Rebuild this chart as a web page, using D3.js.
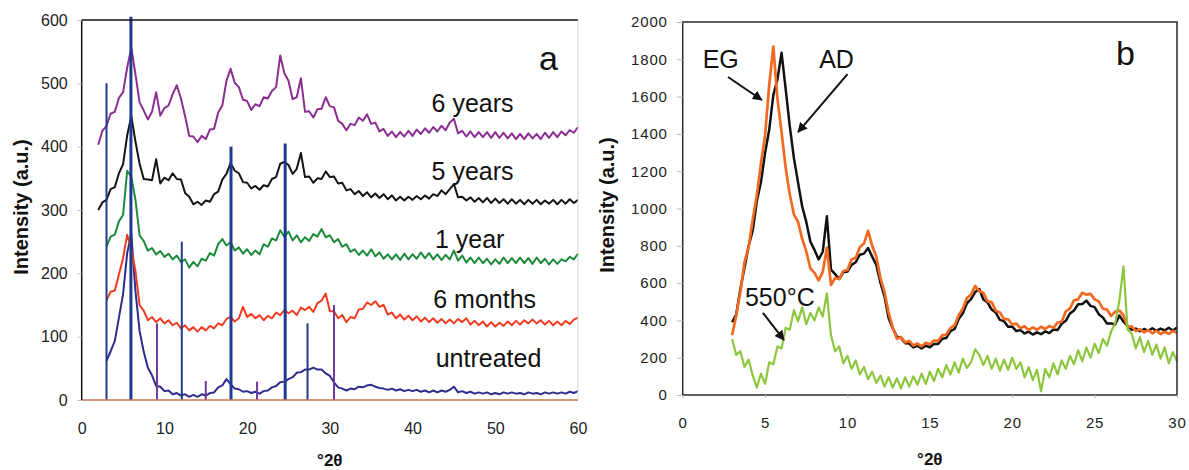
<!DOCTYPE html>
<html><head><meta charset="utf-8">
<script src="https://cdn.jsdelivr.net/npm/d3@7"></script>
<style>body{margin:0;background:#fff}svg{display:block;font-family:Arial,"Liberation Sans",sans-serif}</style>
</head><body><svg id="c" width="1189" height="470"></svg>
<script>
// ---------------- Panel a data (°2θ grid: start + i*0.5) ----------------
const aStep = 0.5;
const sixYearsStart = 2;
const sixYears = [
403,425,433,452,455,477,486,525,556,514,
470,457,443,455,486,449,461,465,483,497,
476,448,417,416,407,417,412,427,428,454,
465,504,523,501,494,474,472,458,467,464,
478,476,488,494,544,516,504,475,478,508,
455,456,446,459,460,478,464,462,441,436,
426,436,434,446,441,451,436,438,424,428,
417,424,415,423,416,425,417,427,420,429,
422,431,424,433,426,438,444,421,425,416,
424,415,423,415,423,414,423,414,422,413,
421,412,420,412,421,413,420,412,422,414,
423,415,424,418,426,422,431];
const fiveYearsStart = 2;
const fiveYears = [
300,312,316,333,336,358,372,418,448,408,
373,349,348,347,380,342,351,347,358,349,
348,327,321,309,313,308,315,313,325,329,
348,357,374,362,358,344,343,334,338,332,
339,337,349,352,373,376,371,357,365,390,
352,353,343,350,349,361,352,353,342,343,
331,333,325,330,322,328,320,326,319,325,
317,323,315,321,315,321,316,322,317,323,
318,325,322,331,325,333,341,320,321,315,
320,313,319,312,319,311,318,311,317,310,
317,310,316,309,316,310,316,309,315,310,
316,309,316,310,317,311,316];
const oneYearStart = 3;
const oneYear = [
242,258,261,282,292,362,352,316,260,251,
236,240,230,235,226,231,222,228,218,222,
209,218,211,223,220,232,228,246,254,244,
249,236,241,231,238,229,236,230,246,242,
255,252,268,258,266,252,260,249,257,251,
262,258,270,257,260,249,254,242,246,234,
238,229,236,228,238,227,233,223,230,222,
230,221,231,222,230,223,233,224,232,222,
230,221,229,222,236,220,228,217,225,216,
225,216,223,214,222,215,225,216,224,216,
225,216,224,215,225,216,223,214,222,215,
222,219,226,222,231];
const sixMonthsStart = 3;
const sixMonths = [
158,171,173,198,224,261,238,204,150,141,
126,131,123,129,121,126,118,122,113,118,
110,115,108,115,110,117,113,121,118,128,
131,124,129,147,131,136,129,134,126,133,
129,138,134,142,137,141,134,146,142,147,
139,153,157,168,140,140,129,134,123,131,
129,143,144,154,150,156,147,150,135,138,
129,135,127,133,126,132,124,130,123,129,
122,128,121,127,121,128,123,129,119,125,
118,124,116,123,116,122,117,124,118,125,
119,126,121,127,121,126,119,125,118,124,
118,125,120,127,130];
const untreatedStart = 3;
const untreated = [
62,77,93,130,167,232,262,172,109,76,
51,39,22,21,14,15,9,11,7,9,
5,8,5,9,7,11,12,20,23,33,
25,18,17,13,14,11,13,10,14,15,
20,22,28,29,33,36,43,44,48,48,
51,48,48,42,38,28,20,18,15,18,
17,21,20,23,24,21,19,18,16,18,
15,17,14,16,14,16,13,15,12,15,
12,15,13,16,21,12,14,11,13,10,
12,10,12,9,11,9,12,10,12,10,
11,9,12,10,11,9,12,10,12,10,
12,10,13,11,14];
// reference (stick) pattern
const stickPos     = [3.0, 5.95, 9.1, 12.1, 15.0, 18.05, 21.2, 24.6, 27.3, 30.5];
const stickHeights = [500, 605,  121, 250,  30,   400,   29,   405,  121,  150];
const stickKind    = ['n','N','p','n','p','N','p','N','n','p'];
const aXTicks = [0,10,20,30,40,50,60];
const aYTicks = [0,100,200,300,400,500,600];
const aLabels = ['6 years','5 years','1 year','6 months','untreated'];

// ---------------- Panel b data (°2θ grid: 3 + i*0.25) ----------------
const bStart = 3, bStep = 0.25;
const EG = [
320,428,552,712,792,941,1072,1243,1392,1662,1868,1590,
1410,1218,1075,968,928,838,770,678,655,615,660,790,
590,628,622,665,670,728,735,792,812,880,800,742,
628,552,440,362,302,310,282,290,265,276,261,280,
272,292,290,320,324,360,373,428,462,520,538,585,
556,548,502,498,452,443,408,406,378,383,359,368,
349,363,350,366,354,370,360,388,393,448,463,508,
513,548,538,542,513,502,463,458,424,447,453,428,
364,368,343,352,336,348,331,344,327,339,328,343,
334];
const AD = [
390,432,568,682,798,882,1040,1142,1298,1422,1608,1692,
1835,1640,1440,1270,1140,1012,928,822,778,727,768,958,
672,648,622,658,662,698,712,752,758,788,742,698,
602,528,412,358,312,306,278,276,255,264,250,264,
256,274,274,302,306,342,354,408,438,492,514,552,
568,512,496,458,442,403,396,366,367,343,348,330,
339,324,336,326,341,332,351,348,382,398,437,453,
487,488,506,478,471,433,416,383,384,378,426,394,
371,349,356,342,354,344,358,344,356,346,361,346,
362];
const C550 = [
300,215,235,150,190,105,40,115,60,175,165,260,
250,360,350,455,395,470,380,440,400,470,420,545,
320,235,260,170,210,140,185,110,150,85,125,65,
105,45,95,40,90,35,95,45,100,55,115,60,
125,75,140,95,160,110,175,120,195,145,175,245,
215,160,210,140,195,130,190,135,200,140,175,95,
150,80,135,20,140,95,170,110,185,140,210,165,
240,180,255,200,275,225,300,265,340,385,505,690,
350,330,250,310,230,290,215,270,195,255,170,230,
180];
const bXTicks = [0,5,10,15,20,25,30];
const bYTicks = [0,200,400,600,800,1000,1200,1400,1600,1800,2000];

// ---------------- drawing ----------------
const svg = d3.select('#c');
svg.append('rect').attr('width',1189).attr('height',470).attr('fill','#fff');
const defs = svg.append('defs');
defs.append('marker').attr('id','ah').attr('viewBox','0 0 10 10').attr('refX',9).attr('refY',5)
  .attr('markerWidth',5).attr('markerHeight',5).attr('orient','auto')
  .append('path').attr('d','M0,0L10,5L0,10z').attr('fill','#111');

// Panel a
const xa = d3.scaleLinear().domain([0,60]).range([81.7,578]);
const ya = d3.scaleLinear().domain([0,600]).range([400,20]);
const ga = svg.append('g');

const seriesA = [
  {vals: untreated, start: untreatedStart, color:'#2e2c8c'},
  {vals: sixMonths, start: sixMonthsStart, color:'#f03c22'},
  {vals: oneYear,   start: oneYearStart,   color:'#1c8a3a'},
  {vals: fiveYears, start: fiveYearsStart, color:'#141414'},
  {vals: sixYears,  start: sixYearsStart,  color:'#8c2d92'}
];
seriesA.forEach(s=>{
  const line = d3.line().x((d,i)=>xa(s.start + i*aStep)).y(d=>ya(d));
  ga.append('path').attr('d', line(s.vals)).attr('fill','none')
    .attr('stroke', s.color).attr('stroke-width',2).attr('stroke-linejoin','round');
});
// sticks
ga.selectAll('line.stick').data(stickPos).enter().append('line')
  .attr('x1',d=>xa(d)).attr('x2',d=>xa(d))
  .attr('y1',ya(0)).attr('y2',(d,i)=>ya(stickHeights[i]))
  .attr('stroke',(d,i)=>stickKind[i]==='p' ? '#6a3a9c' : '#1f3a8f')
  .attr('stroke-width',(d,i)=>stickKind[i]==='N' ? 3 : 2);

// frame a
ga.append('line').attr('x1',xa(0)).attr('x2',xa(60)).attr('y1',ya(0)).attr('y2',ya(0)).attr('stroke','#c8744f').attr('stroke-width',1.5);
ga.append('line').attr('x1',xa(0)).attr('x2',xa(60)).attr('y1',ya(600)).attr('y2',ya(600)).attr('stroke','#111').attr('stroke-width',1.5);
ga.append('line').attr('x1',xa(0)).attr('x2',xa(0)).attr('y1',ya(0)).attr('y2',ya(600)).attr('stroke','#111').attr('stroke-width',1.5);
ga.append('line').attr('x1',xa(60)).attr('x2',xa(60)).attr('y1',ya(0)).attr('y2',ya(600)).attr('stroke','#d4d4d4').attr('stroke-width',1);

// axes a
const axYa = ga.append('g').attr('transform',`translate(${xa(0)},0)`)
  .call(d3.axisLeft(ya).tickValues(aYTicks).tickFormat(d3.format('d')).tickSize(4).tickPadding(10));
const axXa = ga.append('g').attr('transform',`translate(0,${ya(0)})`)
  .call(d3.axisBottom(xa).tickValues(aXTicks).tickFormat(d3.format('d')).tickSize(0).tickPadding(23));
[axYa,axXa].forEach(a=>{
  a.select('.domain').remove();
  a.selectAll('line').attr('stroke','#a9bfd6');
  a.selectAll('text').attr('font-size',16).attr('fill','#222').attr('font-family','Arial, "Liberation Sans", sans-serif');
});

// labels a
const aLabelPos = [[42.3,455],[42.3,347],[42.7,240],[42.5,145],[42.8,52]];
ga.selectAll('text.sl').data(aLabels).enter().append('text')
  .attr('x',(d,i)=>xa(aLabelPos[i][0])).attr('y',(d,i)=>ya(aLabelPos[i][1]))
  .attr('font-size',25).attr('fill','#111').text(d=>d);
ga.append('text').attr('x',xa(55.3)).attr('y',ya(521)).attr('font-size',34).attr('fill','#111').text('a');
ga.append('text').attr('x',(xa(0)+xa(60))/2).attr('y',466).attr('text-anchor','middle')
  .attr('font-size',17).attr('font-weight','bold').attr('fill','#111').text('°2θ');
ga.append('text').attr('transform','translate(28,207) rotate(-90)').attr('text-anchor','middle')
  .attr('font-size',20).attr('font-weight','bold').attr('fill','#111').text('Intensity (a.u.)');

// Panel b
const xb = d3.scaleLinear().domain([0,30]).range([682.7,1177]);
const yb = d3.scaleLinear().domain([0,2000]).range([395,22]);
const gb = svg.append('g');
const seriesB = [
  {vals: AD,   color:'#111111', w:2.5},
  {vals: EG,   color:'#f26a21', w:2.7},
  {vals: C550, color:'#8cc63e', w:2.2}
];
seriesB.forEach(s=>{
  const line = d3.line().x((d,i)=>xb(bStart + i*bStep)).y(d=>yb(d));
  gb.append('path').attr('d', line(s.vals)).attr('fill','none')
    .attr('stroke', s.color).attr('stroke-width', s.w).attr('stroke-linejoin','round');
});
gb.append('rect').attr('x',xb(0)).attr('y',yb(2000)).attr('width',xb(30)-xb(0)).attr('height',yb(0)-yb(2000))
  .attr('fill','none').attr('stroke','#2a2a2a').attr('stroke-width',1.5);

const axYb = gb.append('g').attr('transform',`translate(${xb(0)},0)`)
  .call(d3.axisLeft(yb).tickValues(bYTicks).tickFormat(d3.format('d')).tickSize(6).tickPadding(9));
const axXb = gb.append('g').attr('transform',`translate(0,${yb(0)})`)
  .call(d3.axisBottom(xb).tickValues(bXTicks).tickFormat(d3.format('d')).tickSize(3).tickPadding(19));
[axYb,axXb].forEach(a=>{
  a.select('.domain').remove();
  a.selectAll('line').attr('stroke','#a9bfd6');
  a.selectAll('text').attr('font-size',15).attr('fill','#222').attr('letter-spacing','0.8px')
    .attr('font-family','Arial, "Liberation Sans", sans-serif');
});

// annotations b
const bNotes = [
  {t:'EG',    x:1.21, y:1753, from:[2.75,1705], to:[4.8,1582]},
  {t:'AD',    x:8.28, y:1753, from:[10.0,1721], to:[7.0,1410]},
  {t:'550°C', x:3.78, y:477,  from:[4.87,440],  to:[6.14,295]}
];
bNotes.forEach(n=>{
  gb.append('text').attr('x',xb(n.x)).attr('y',yb(n.y)).attr('font-size',25).attr('fill','#111').text(n.t);
  gb.append('line').attr('x1',xb(n.from[0])).attr('y1',yb(n.from[1]))
    .attr('x2',xb(n.to[0])).attr('y2',yb(n.to[1]))
    .attr('stroke','#111').attr('stroke-width',2).attr('marker-end','url(#ah)');
});
gb.append('text').attr('x',xb(26.3)).attr('y',yb(1769)).attr('font-size',34).attr('fill','#111').text('b');
gb.append('text').attr('x',(xb(0)+xb(30))/2).attr('y',465).attr('text-anchor','middle')
  .attr('font-size',17).attr('font-weight','bold').attr('fill','#111').text('°2θ');
gb.append('text').attr('transform','translate(614,205) rotate(-90)').attr('text-anchor','middle')
  .attr('font-size',20).attr('font-weight','bold').attr('fill','#111').text('Intensity (a.u.)');
</script></body></html>
